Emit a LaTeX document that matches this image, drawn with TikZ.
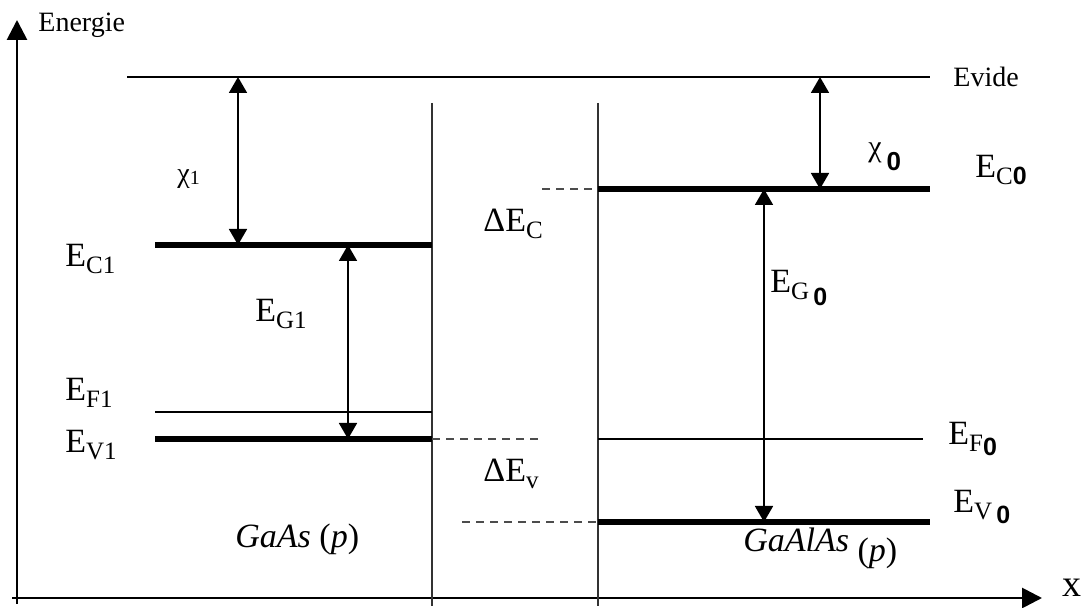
\documentclass[tikz,border=0pt]{standalone}
\usepackage{fontspec}
\setmainfont{Liberation Serif}
\setsansfont{Liberation Sans}
\usetikzlibrary{arrows.meta}

\newcommand{\lvlsub}[1]{\raisebox{-3.5pt}{\fontsize{12.5}{13}\selectfont #1}}
\newcommand{\bzero}{\textsf{\textbf{0}}}

\begin{document}
\begin{tikzpicture}[
        x=0.5pt, y=-0.5pt,
        axis/.style={line width=1.4pt, -{Triangle[length=10pt, width=10pt]}},
        band/.style={line width=2.6pt},
        level/.style={line width=0.7pt},
        wall/.style={line width=0.8pt, draw=black!80},
        gap/.style={line width=0.9pt, {Triangle[length=8pt, width=9pt]}-{Triangle[length=8pt, width=9pt]}},
        offset/.style={line width=0.8pt, draw=black!70, dash pattern=on 4pt off 3pt},
        lbl/.style={anchor=base west, inner sep=0pt, font=\fontsize{17}{18}\selectfont},
        small/.style={anchor=base west, inner sep=0pt, font=\fontsize{14}{15}\selectfont}
    ]
        \useasboundingbox (0,0) rectangle (1087,608);

        % axes
        \coordinate (origin) at (17,604);
        \coordinate (ytip) at (17,20);
        \coordinate (xstart) at (12,598);
        \coordinate (xtip) at (1042,598);
        \draw[axis] (origin) -- (ytip);
        \draw[axis] (xstart) -- (xtip);
        \node[small] (energie) at (38,32) {Energie};
        \node[lbl, font=\fontsize{19}{20}\selectfont] (xlab) at (1062,597) {x};

        % vacuum level
        \coordinate (vacL) at (127,77);
        \coordinate (vacR) at (930,77);
        \draw[level] (vacL) -- (vacR);
        \node[small] (evide) at (953,87) {Evide};

        % interface walls
        \coordinate (wall1top) at (432,103);
        \coordinate (wall1bot) at (432,606);
        \coordinate (wall2top) at (598,103);
        \coordinate (wall2bot) at (598,606);
        \draw[wall] (wall1top) -- (wall1bot);
        \draw[wall] (wall2top) -- (wall2bot);

        % GaAs side
        \coordinate (ec1L) at (155,245);
        \coordinate (ec1R) at (432,245);
        \coordinate (ef1L) at (155,412);
        \coordinate (ef1R) at (432,412);
        \coordinate (ev1L) at (155,439);
        \coordinate (ev1R) at (432,439);
        \draw[band] (ec1L) -- (ec1R);
        \draw[level] (ef1L) -- (ef1R);
        \draw[band] (ev1L) -- (ev1R);

        \coordinate (chi1top) at (238,77);
        \coordinate (chi1bot) at (238,245);
        \draw[gap] (chi1top) -- (chi1bot);
        \coordinate (eg1top) at (348,245);
        \coordinate (eg1bot) at (348,439);
        \draw[gap] (eg1top) -- (eg1bot);

        \node[small] (chi1) at (177,183) {χ\raisebox{-1pt}{\fontsize{10}{10}\selectfont 1}};
        \node[lbl] (ec1lab) at (65,267) {E\lvlsub{C1}};
        \node[lbl] (eg1lab) at (255,322) {E\lvlsub{G1}};
        \node[lbl] (ef1lab) at (65,401) {E\lvlsub{F1}};
        \node[lbl] (ev1lab) at (65,453) {E\lvlsub{V1}};
        \node[lbl] (gaas) at (235,548) {\textit{GaAs} (\textit{p})};

        % band offsets
        \coordinate (dcL) at (542,189);
        \coordinate (dvtopR) at (538,439);
        \coordinate (dvbotL) at (462,522);
        \draw[offset] (dcL) -- (wall2top |- dcL);
        \draw[offset] (ev1R) -- (dvtopR);
        \draw[offset] (dvbotL) -- (wall2top |- dvbotL);
        \node[lbl] (dec) at (483,232) {ΔE\lvlsub{C}};
        \node[lbl] (dev) at (483,482) {ΔE\lvlsub{v}};

        % GaAlAs side
        \coordinate (ec0L) at (598,189);
        \coordinate (ec0R) at (930,189);
        \coordinate (ef0L) at (598,439);
        \coordinate (ef0R) at (923,439);
        \coordinate (ev0L) at (598,522);
        \coordinate (ev0R) at (930,522);
        \draw[band] (ec0L) -- (ec0R);
        \draw[level] (ef0L) -- (ef0R);
        \draw[band] (ev0L) -- (ev0R);

        \coordinate (chi0top) at (820,77);
        \coordinate (chi0bot) at (820,189);
        \draw[gap] (chi0top) -- (chi0bot);
        \coordinate (eg0top) at (764,189);
        \coordinate (eg0bot) at (764,522);
        \draw[gap] (eg0top) -- (eg0bot);

        \node[small, font=\fontsize{15}{16}\selectfont] (chi0) at (868,157) {χ\,\raisebox{-7pt}{\fontsize{13}{13}\selectfont\bzero}};
        \node[lbl] (ec0lab) at (975,178) {E\lvlsub{C\bzero}};
        \node[lbl] (eg0lab) at (770,293) {E\lvlsub{G\,\raisebox{-3pt}{\bzero}}};
        \node[lbl] (ef0lab) at (948,445) {E\lvlsub{F\raisebox{-2pt}{\bzero}}};
        \node[lbl] (ev0lab) at (953,513) {E\lvlsub{V\,\raisebox{-2pt}{\bzero}}};
        \node[lbl] (gaalas) at (743,552) {\textit{GaAlAs} \raisebox{-5pt}{(\textit{p})}};
    \end{tikzpicture}
\end{document}
